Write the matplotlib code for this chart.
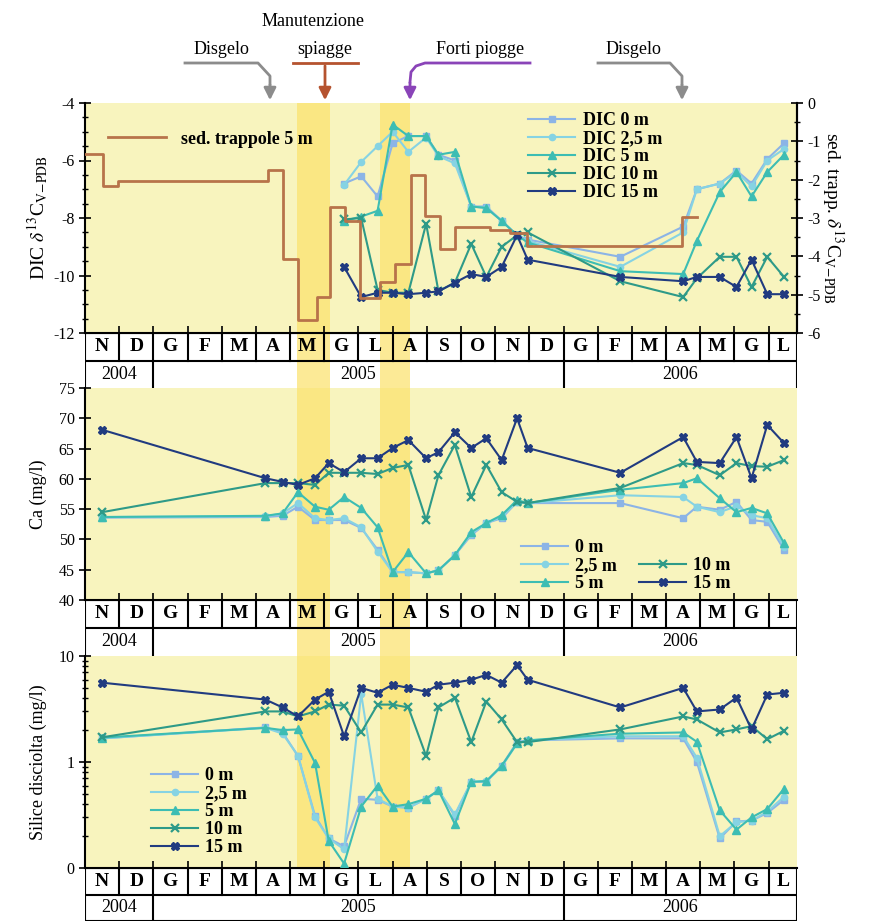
import numpy as np
import matplotlib.pyplot as plt
from matplotlib.lines import Line2D
from matplotlib.patches import FancyArrowPatch
from matplotlib.ticker import MultipleLocator, FixedLocator, NullFormatter, LogLocator

plt.rcParams['font.family'] = ['Liberation Serif', 'DejaVu Serif']
plt.rcParams['mathtext.fontset'] = 'stix'
plt.rcParams['axes.unicode_minus'] = False

W, H = 869, 924

# month axis: 0 = start of Nov 2004, one unit per month
months = ['N', 'D', 'G', 'F', 'M', 'A', 'M', 'G', 'L', 'A', 'S',
          'O', 'N', 'D', 'G', 'F', 'M', 'A', 'M', 'G', 'L']
years = ['2004', '2005', '2006']
year_edges = [0, 2, 14, 20.83]
xmax = 20.83

# sampling dates (months since 1 Nov 2004)
dates = [0.5, 5.28, 5.78, 6.23, 6.73, 7.13, 7.58, 8.08, 8.56, 9.0, 9.46, 9.98,
         10.34, 10.82, 11.3, 11.74, 12.19, 12.64, 12.95, 15.66, 17.5, 17.9,
         18.57, 19.06, 19.5, 19.96, 20.45]
dic_dates = dates[6:]

# DIC d13C (permil)
dic_0 = [-6.8, -6.55, -7.25, -5.4, -5.15, -5.15, -5.8, -6.0, -7.6, -7.6, -8.1,
         -8.6, -8.75, -9.35, -8.3, -7.0, -6.8, -6.35, -6.8, -5.95, -5.4]
dic_25 = [-6.85, -6.05, -5.5, -5.0, -5.7, -5.2, -5.85, -6.1, -7.6, -7.65, -8.1,
          -8.6, -8.8, -9.7, -8.5, -7.0, -6.8, -6.4, -6.9, -6.0, -5.6]
dic_5 = [-8.1, -7.95, -7.75, -4.75, -5.15, -5.15, -5.8, -5.7, -7.6, -7.65, -8.1,
         -8.6, -8.85, -9.85, -9.95, -8.8, -7.1, -6.4, -7.25, -6.4, -5.8]
dic_10 = [-8.05, -8.0, -10.5, -10.6, -10.6, -8.2, -10.55, -10.25, -8.9, -10.05,
          -9.0, -8.6, -8.5, -10.2, -10.75, -10.1, -9.35, -9.35, -10.4, -9.35, -10.05]
dic_15 = [-9.7, -10.75, -10.6, -10.6, -10.65, -10.6, -10.55, -10.25, -9.95, -10.05,
          -9.7, -8.6, -9.45, -10.05, -10.2, -10.05, -10.05, -10.4, -9.45, -10.65, -10.65]

# sediment traps d13C (right axis), step series
sed_x = [0, 0.53, 0.96, 5.35, 5.79, 6.23, 6.78, 7.16, 7.60, 8.04, 8.63, 9.06,
         9.55, 9.94, 10.38, 10.82, 11.84, 12.43, 12.92, 17.46, 17.9]
sed_v = [-1.32, -2.16, -2.03, -1.74, -4.08, -5.66, -5.05, -2.71, -3.08, -5.08,
         -4.66, -4.21, -1.89, -2.95, -3.82, -3.24, -3.32, -3.39, -3.74, -2.97, -2.97]

# Ca (mg/l)
ca_0 = [53.6, 53.7, 53.9, 55.4, 53.2, 53.2, 53.2, 51.9, 48.3, 44.6, 44.6, 44.4,
        44.9, 47.4, 50.7, 52.7, 53.5, 56.2, 56.0, 56.0, 53.5, 55.4, 54.9, 56.2,
        53.2, 52.9, 48.3]
ca_25 = [53.7, 53.8, 54.3, 56.0, 53.5, 53.2, 53.5, 52.0, 48.0, 44.6, 44.6, 44.4,
         44.9, 47.4, 50.9, 52.7, 53.7, 56.2, 56.0, 57.3, 57.0, 55.4, 54.5, 55.5,
         54.0, 53.5, 48.8]
ca_5 = [53.7, 53.9, 54.3, 57.8, 55.4, 54.9, 57.0, 55.2, 52.0, 44.6, 47.9, 44.4,
        44.9, 47.4, 51.2, 52.7, 54.0, 56.5, 56.0, 58.2, 59.3, 60.1, 56.8, 54.5,
        55.2, 54.3, 49.4]
ca_10 = [54.5, 59.3, 59.3, 59.3, 59.0, 61.0, 61.0, 61.0, 60.8, 61.8, 62.3, 53.2,
         60.6, 65.6, 57.0, 62.3, 57.8, 56.2, 56.0, 58.5, 62.6, 62.3, 60.6, 62.6,
         62.1, 62.0, 63.1]
ca_15 = [68.1, 60.1, 59.5, 59.0, 60.1, 62.6, 61.1, 63.4, 63.4, 65.1, 66.4, 63.4,
         64.4, 67.7, 65.1, 66.7, 63.1, 70.0, 65.1, 61.0, 66.9, 62.8, 62.6, 66.9,
         60.1, 68.9, 65.9]

# dissolved silica (mg/l)
si_0 = [1.67, 2.12, 1.9, 1.14, 0.31, 0.19, 0.16, 0.45, 0.44, 0.38, 0.37, 0.45,
        0.54, 0.31, 0.65, 0.65, 0.92, 1.54, 1.6, 1.67, 1.67, 1.0, 0.19, 0.275,
        0.28, 0.33, 0.44]
si_25 = [1.67, 2.1, 1.85, 1.15, 0.3, 0.19, 0.15, 4.4, 0.45, 0.38, 0.37, 0.45,
         0.54, 0.32, 0.65, 0.66, 0.9, 1.5, 1.6, 1.75, 1.75, 1.1, 0.2, 0.27,
         0.28, 0.34, 0.47]
si_5 = [1.7, 2.1, 2.0, 2.03, 0.98, 0.18, 0.11, 0.38, 0.6, 0.38, 0.4, 0.45,
        0.54, 0.26, 0.65, 0.66, 0.92, 1.5, 1.6, 1.85, 1.9, 1.55, 0.35, 0.23,
        0.3, 0.36, 0.56]
si_10 = [1.71, 3.0, 3.0, 2.69, 3.0, 3.48, 3.4, 1.9, 3.48, 3.48, 3.27, 1.14,
         3.27, 4.05, 1.54, 3.72, 2.52, 1.54, 1.54, 2.03, 2.69, 2.52, 1.9, 2.03,
         2.18, 1.64, 1.97]
si_15 = [5.6, 3.88, 3.27, 2.69, 3.88, 4.6, 1.75, 5.0, 4.5, 5.36, 5.0, 4.6,
         5.36, 5.6, 5.97, 6.64, 5.6, 8.2, 5.97, 3.27, 5.0, 3.0, 3.13, 4.05,
         2.03, 4.33, 4.5]

depths = ['0 m', '2,5 m', '5 m', '10 m', '15 m']
styles = [('#8cb4e6', 's', 5), ('#86d3e3', 'o', 4.5), ('#3dbdb3', '^', 5.5),
          ('#2e9a88', 'x', 6), ('#213b80', 'X', 6.3)]
panel_bg = '#f8f4be'
band_c = '#fbe26a'
bands = [(6.2, 7.17), (8.63, 9.51)]


def box(top, bottom, left=85, right=797):
    return [left / W, 1 - bottom / H, (right - left) / W, (bottom - top) / H]


def pf(x, y):
    return (x / W, 1 - y / H)


fig = plt.figure(figsize=(W / 100, H / 100), dpi=100)


def style_panel(ax):
    ax.set_facecolor(panel_bg)
    ax.set_xlim(0, xmax)
    for a, b in bands:
        ax.axvspan(a, b, color=band_c, alpha=0.7, lw=0, zorder=0.5)
    ax.spines['top'].set_visible(False)
    ax.spines['right'].set_visible(False)
    ax.spines['left'].set_linewidth(1.5)
    ax.spines['bottom'].set_linewidth(1.5)
    ax.set_xticks(np.arange(0, 21))
    ax.xaxis.set_major_formatter(NullFormatter())
    ax.tick_params(axis='x', direction='in', length=5, width=1.2)
    ax.tick_params(axis='y', which='major', direction='inout', length=8,
                   width=1.2, labelsize=11.5)
    ax.tick_params(axis='y', which='minor', direction='inout', length=4, width=1)


def month_table(top, bottom, highlight, bottom_line=False):
    t = fig.add_axes(box(top, bottom))
    t.set_xlim(0, xmax)
    t.set_ylim(0, 2)
    t.axis('off')
    if highlight:
        for a, b in bands:
            t.axvspan(a, b, color=band_c, alpha=0.7, lw=0, zorder=0)
    t.axhline(2, color='k', lw=1.5)
    t.axhline(1, color='k', lw=1.5)
    if bottom_line:
        t.axhline(0, color='k', lw=1.5)
    for i in range(22):
        t.plot([min(i, xmax)] * 2, [1, 2], color='k', lw=1.5)
    for i, m in enumerate(months):
        t.text(min(i + 0.5, xmax - 0.42), 1.5, m, ha='center', va='center',
               fontsize=14, fontweight='bold')
    for e in year_edges:
        t.plot([e, e], [0, 1], color='k', lw=1.5)
    for i, y in enumerate(years):
        t.text((year_edges[i] + year_edges[i + 1]) / 2, 0.5, y,
               ha='center', va='center', fontsize=13)
    return t


def draw_series(ax, x, series):
    for vals, (c, m, ms), lab in zip(series, styles, depths):
        mew = 1.6 if m == 'x' else 1
        ax.plot(x, vals, color=c, marker=m, markersize=ms, lw=1.5,
                markeredgewidth=mew, label=lab, zorder=3)


# ---- panel 1: DIC
ax1 = fig.add_axes(box(103, 333))
style_panel(ax1)
ax1.spines['right'].set_visible(True)
ax1.spines['right'].set_linewidth(1.5)
ax1.set_ylim(-12, -4)
ax1.yaxis.set_major_locator(MultipleLocator(2))
ax1.yaxis.set_minor_locator(MultipleLocator(0.5))
draw_series(ax1, dic_dates, [dic_0, dic_25, dic_5, dic_10, dic_15])
ax1.set_ylabel(r'DIC $\delta^{13}$C$_{\rm V\!-\!PDB}$', fontsize=14, labelpad=2)

ax1r = ax1.twinx()
ax1r.set_xlim(0, xmax)
ax1r.set_ylim(-6, 0)
ax1r.step(sed_x, sed_v, where='post', color='#b8734a', lw=2, zorder=2)
ax1r.yaxis.set_major_locator(MultipleLocator(1))
ax1r.yaxis.set_minor_locator(MultipleLocator(0.5))
for s in ['top', 'left', 'bottom']:
    ax1r.spines[s].set_visible(False)
ax1r.spines['right'].set_linewidth(1.5)
ax1r.tick_params(axis='y', which='major', direction='inout', length=8,
                 width=1.2, labelsize=11.5)
ax1r.tick_params(axis='y', which='minor', direction='inout', length=4, width=1)
ax1r.set_ylabel(r'sed. trapp. $\delta^{13}$C$_{\rm V\!-\!PDB}$', fontsize=14,
                rotation=270, labelpad=18)

leg_font = {'size': 13, 'weight': 'bold'}
h, l = ax1.get_legend_handles_labels()
ax1.legend(h, ['DIC ' + d for d in l], loc='upper left',
           bbox_to_anchor=(0.6, 1.03), frameon=False, prop=leg_font,
           handlelength=2.6, labelspacing=0.05, handletextpad=0.4)
ax1r.legend([Line2D([], [], color='#b8734a', lw=2)], ['sed. trappole 5 m'],
            loc='upper left', bbox_to_anchor=(0.01, 0.95), frameon=False,
            prop=leg_font, handlelength=3.2)

month_table(333, 388, True)

# ---- panel 2: Ca
ax2 = fig.add_axes(box(388, 600))
style_panel(ax2)
ax2.set_ylim(40, 75)
ax2.yaxis.set_major_locator(MultipleLocator(5))
draw_series(ax2, dates, [ca_0, ca_25, ca_5, ca_10, ca_15])
ax2.set_ylabel('Ca (mg/l)', fontsize=13, labelpad=8)
h, l = ax2.get_legend_handles_labels()
blank = Line2D([], [], linestyle='none')
ax2.legend(h[:3] + [blank] + h[3:], l[:3] + [''] + l[3:], ncol=2,
           loc='lower left', bbox_to_anchor=(0.59, -0.04), frameon=False,
           prop=leg_font, handlelength=2.6, labelspacing=0.05,
           handletextpad=0.4, columnspacing=1.2)

month_table(600, 656, True)

# ---- panel 3: silica
ax3 = fig.add_axes(box(656, 868))
style_panel(ax3)
ax3.set_yscale('log')
ax3.set_ylim(0.1, 10)
ax3.yaxis.set_major_locator(FixedLocator([0.1, 1, 10]))
ax3.set_yticklabels(['0', '1', '10'])
ax3.yaxis.set_minor_locator(LogLocator(subs=np.arange(2, 10)))
ax3.yaxis.set_minor_formatter(NullFormatter())
draw_series(ax3, dates, [si_0, si_25, si_5, si_10, si_15])
ax3.set_ylabel('Silice disciolta (mg/l)', fontsize=13, labelpad=8)
ax3.legend(loc='lower left', bbox_to_anchor=(0.07, -0.02), frameon=False,
           prop=leg_font, handlelength=2.6, labelspacing=0.05,
           handletextpad=0.4)

month_table(868, 921, False, bottom_line=True)

# ---- event annotations above the chart
def event_line(xs, ys, color):
    fx = [x / W for x in xs]
    fy = [1 - y / H for y in ys]
    fig.add_artist(Line2D(fx, fy, color=color, lw=2, transform=fig.transFigure))


def event_arrow(x, y0, y1, color):
    fig.add_artist(FancyArrowPatch(pf(x, y0), pf(x, y1), arrowstyle='-|>',
                                   mutation_scale=18, color=color, lw=2,
                                   transform=fig.transFigure))


gray = '#8c8c8c'
brown = '#b5532f'
purple = '#8a44b8'
fs_ev = 13

fig.text(*pf(221, 50), 'Disgelo', ha='center', va='center', fontsize=fs_ev)
event_line([185, 258, 270, 270], [63, 63, 76, 84], gray)
event_arrow(270, 82, 103, gray)

fig.text(*pf(313, 22), 'Manutenzione', ha='center', va='center', fontsize=fs_ev)
fig.text(*pf(325, 50), 'spiagge', ha='center', va='center', fontsize=fs_ev)
event_line([293, 358], [63, 63], brown)
event_arrow(325, 63, 103, brown)

fig.text(*pf(480, 50), 'Forti piogge', ha='center', va='center', fontsize=fs_ev)
event_line([530, 425, 416, 411, 410], [63, 63, 66, 72, 82], purple)
event_arrow(410, 80, 103, purple)

fig.text(*pf(633, 50), 'Disgelo', ha='center', va='center', fontsize=fs_ev)
event_line([598, 670, 682, 682], [63, 63, 76, 84], gray)
event_arrow(682, 82, 103, gray)

fig.savefig('out.png', dpi=100)
